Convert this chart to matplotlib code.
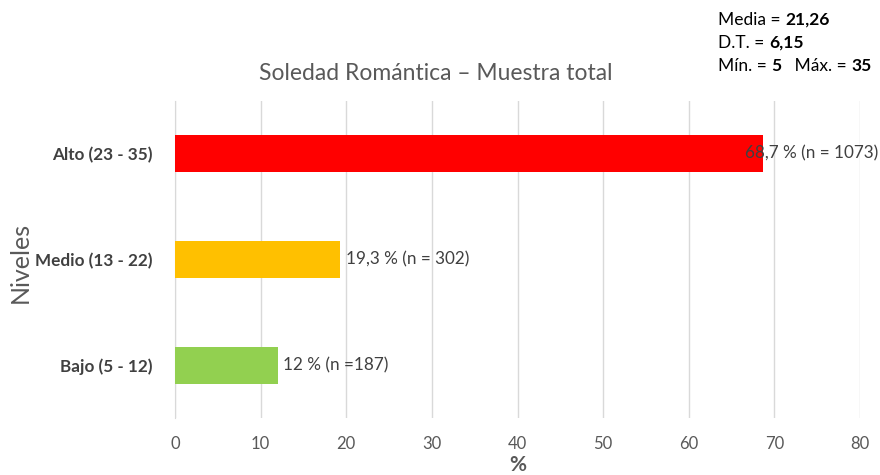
import matplotlib
matplotlib.use("Agg")
import matplotlib.pyplot as plt

plt.rcParams['font.family'] = ['Lato', 'DejaVu Sans']

niveles = ["Bajo (5 - 12)", "Medio (13 - 22)", "Alto (23 - 35)"]
porcentajes = [12.0, 19.3, 68.7]
etiquetas = ["12 % (n =187)", "19,3 % (n = 302)", "68,7 % (n = 1073)"]
colores = ["#92D050", "#FFC000", "#FF0000"]
desplaz = [4, 4, -13]  # excel put the top label over the bar end

# stats box: (normal text, bold text) pieces per line
stats = [[("Media = ", False), ("21,26", True)],
         [("D.T. = ", False), ("6,15", True)],
         [("Mín. = ", False), ("5", True), ("   Máx. = ", False), ("35", True)]]

fig = plt.figure(figsize=(8.8, 4.75), dpi=100)
ax = fig.add_axes([175/880, 1 - 418/475, 685/880, 317/475])

pos = range(len(niveles))
ax.barh(pos, porcentajes, height=0.35, color=colores, zorder=3)
for i, (v, t) in enumerate(zip(porcentajes, etiquetas)):
    ax.annotate(t, (v, i), xytext=(desplaz[i], 0), textcoords="offset points",
                va="center", ha="left", fontsize=12.3, color="#404040", zorder=4)

ax.set_xlim(0, 80)
ax.set_ylim(-0.5, 2.5)
ax.set_xticks(range(0, 81, 10))
ax.set_yticks(list(pos))
ax.set_yticklabels(niveles, fontweight="bold", fontsize=12.3, color="#404040")
ax.tick_params(axis="x", colors="#595959", labelsize=12, length=0, pad=13)
ax.tick_params(axis="y", length=0, pad=16)
ax.grid(axis="x", color="#D9D9D9", linewidth=1, zorder=0)
for s in ["top", "right", "bottom"]:
    ax.spines[s].set_visible(False)
ax.spines["left"].set_color("#D9D9D9")

ax.set_xlabel("%", fontsize=15, fontweight="bold", color="#595959", labelpad=2)
fig.text(0.010, 1 - 262/475, "Niveles", rotation=90, fontsize=18, color="#595959",
         ha="left", va="center")
fig.text(436/880, 1 - 74/475, "Soledad Romántica – Muestra total", fontsize=16.5,
         color="#595959", ha="center", va="center")

fig.canvas.draw()
for j, linea in enumerate(stats):
    prev = None
    for txt, neg in linea:
        w = "bold" if neg else "normal"
        if prev is None:
            prev = fig.text(718/880, 1 - (20 + 23*j)/475, txt, fontsize=12.5,
                            fontweight=w, va="center")
        else:
            prev = ax.annotate(txt, xy=(1, 0.5), xycoords=prev, xytext=(0, 0),
                               textcoords="offset points", fontsize=12.5,
                               fontweight=w, va="center", annotation_clip=False)
        fig.canvas.draw()

fig.savefig("out.png", dpi=100)
